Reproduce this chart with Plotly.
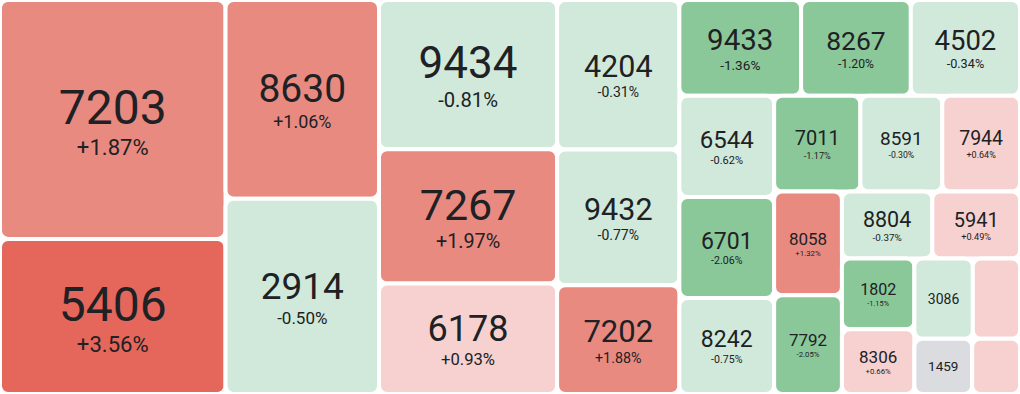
import plotly.graph_objects as go

# ---------------- data ----------------
codes = ["7203", "5406", "8630", "2914", "9434", "7267", "6178", "4204", "9432", "7202",
         "9433", "8267", "4502", "6544", "6701", "8242", "7011", "8591", "7944", "8058",
         "7792", "8804", "5941", "1802", "8306", "3086", "", "1459", ""]
weights = [53900, 35000, 30500, 30000, 26600, 23900, 19700, 18300, 16600, 13300,
           11650, 10500, 10450, 9600, 9580, 9100, 8270, 7850, 7450, 7040,
           6700, 6050, 5870, 5130, 4700, 4690, 3790, 3200, 2650]
changes = [1.87, 3.56, 1.06, -0.50, -0.81, 1.97, 0.93, -0.31, -0.77, 1.88,
           -1.36, -1.20, -0.34, -0.62, -2.06, -0.75, -1.17, -0.30, 0.64, 1.32,
           -2.05, -0.37, 0.49, -1.15, 0.66, -0.20, 0.40, 0.00, 0.40]

# ---------------- style ----------------
label_px = [48, 48, 39, 37, 44, 43, 36, 30.5, 30.5, 31,
            29.5, 26.5, 27.5, 24, 23, 23, 20, 19, 19.5, 17,
            17, 21.5, 20, 16, 17, 14, 0, 13.5, 0]
PCT_RATIO = 0.46
FONT = "Roboto, 'Open Sans', sans-serif"
TEXT_COLOR = "#202124"


def tile_color(c):
    if c >= 3:
        return "#E5675C"
    if c >= 1:
        return "#E98A81"
    if c > 0:
        return "#F6D1CF"
    if c == 0:
        return "#DADCE0"
    if c > -1:
        return "#D1E9DA"
    return "#8AC899"


ids = [c if c else f"blank{i}" for i, c in enumerate(codes)]
colors = [tile_color(c) for c in changes]
texts, base_sizes = [], []
for code, ch, px in zip(codes, changes, label_px):
    if not code or px <= 0:
        texts.append("")
        base_sizes.append(10)
        continue
    t = f"<span style='font-size:{px}px'>{code}</span>"
    if px >= 15:
        t += f"<br><span style='font-size:{px * PCT_RATIO:.1f}px'>{ch:+.2f}%</span>"
    texts.append(t)
    base_sizes.append(round(px * 0.51, 1))

fig = go.Figure(go.Treemap(
    ids=ids,
    labels=ids,
    parents=[""] * len(ids),
    values=weights,
    text=texts,
    texttemplate="%{text}",
    textposition="middle center",
    textfont=dict(family=FONT, color=TEXT_COLOR, size=base_sizes),
    marker=dict(colors=colors, line=dict(color="white", width=4), cornerradius=8,
                pad=dict(t=0, l=0, r=0, b=0)),
    tiling=dict(packing="squarify", squarifyratio=1, pad=0),
    pathbar=dict(visible=False),
    sort=True,
    hoverinfo="skip",
))
fig.update_layout(
    width=1020, height=394,
    margin=dict(l=0, r=0, t=0, b=0),
    paper_bgcolor="white",
    plot_bgcolor="white",
)
fig.write_html("out.html", config={"displayModeBar": False},
               post_script="document.body.style.margin='0';document.body.style.overflow='hidden';")
